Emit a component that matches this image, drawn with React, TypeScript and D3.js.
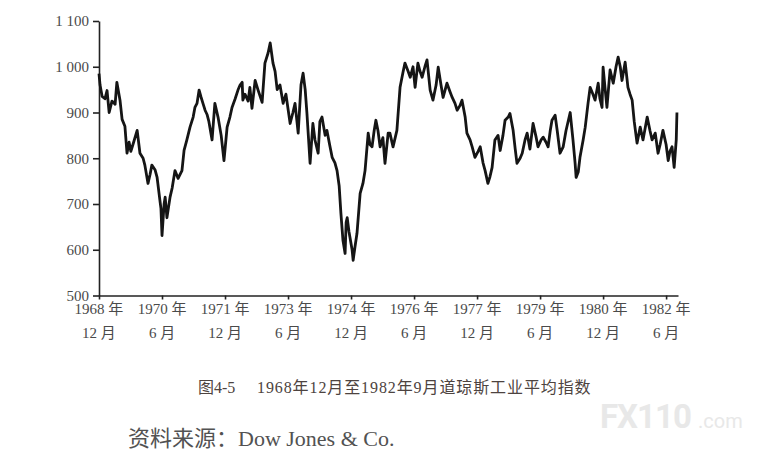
import { useEffect, useRef } from "react";
import * as d3 from "d3";

// months counted from December 1968
const monthsSinceDec1968 = [
  0, 0.3, 0.9, 1.7, 2.3, 2.9, 3.7, 4.6, 5.1, 6.0, 6.6, 7.4, 8.0, 8.6, 9.1, 9.7,
  10.9, 11.7, 12.6, 13.1, 14.0, 14.6, 15.1, 16.0, 16.6, 17.4, 17.7, 18.0, 18.6,
  18.9, 19.4, 20.3, 20.9, 21.7, 22.6, 23.7, 24.3, 25.1, 26.0, 26.9, 27.4, 28.0,
  28.6, 29.1, 29.7, 30.3, 30.9, 31.4, 32.3, 33.1, 34.0, 34.9, 35.7, 36.6, 37.4,
  38.0, 38.9, 39.7, 40.3, 40.9, 41.1, 41.7, 42.6, 43.1, 43.7, 44.6, 45.4, 46.6,
  47.4, 48.3, 48.9, 49.7, 50.3, 50.9, 51.7, 52.6, 53.4, 54.6, 55.4, 56.0, 56.9,
  57.7, 58.3, 58.9, 59.4, 60.3, 61.1, 61.7, 62.6, 63.1, 63.7, 64.6, 65.1, 66.0,
  66.6, 67.4, 68.0, 68.6, 69.1, 69.7, 70.3, 70.6, 70.9, 71.4, 71.7, 72.3, 72.6,
  73.1, 73.7, 74.6, 75.4, 76.0, 76.9, 77.4, 78.0, 78.6, 79.1, 79.7, 80.3, 81.1,
  81.7, 82.6, 83.1, 84.0, 85.1, 86.0, 86.9, 87.4, 88.3, 88.9, 89.7, 90.3, 91.1,
  91.7, 92.3, 93.1, 93.7, 94.6, 95.4, 96.3, 96.9, 97.7, 98.3, 98.9, 99.4, 100.3,
  100.9, 101.7, 102.3, 103.1, 103.7, 104.6, 105.1, 106.0, 106.6, 107.4, 108.3,
  108.9, 109.7, 110.3, 111.1, 111.7, 112.3, 113.1, 114.0, 114.6, 115.4, 116.0,
  116.9, 117.4, 118.3, 118.9, 119.4, 120.3, 120.9, 121.7, 122.3, 123.1, 124.0,
  124.9, 125.4, 126.3, 126.9, 127.7, 128.3, 128.9, 129.4, 130.3, 130.9, 131.7,
  132.6, 133.4, 134.6, 135.4, 136.0, 136.3, 136.9, 137.4, 138.3, 138.9, 139.7,
  140.3, 141.1, 141.7, 142.6, 143.1, 143.7, 144.0, 144.6, 145.1, 146.0, 146.9,
  147.7, 148.3, 148.9, 149.4, 150.3, 151.1, 151.7, 152.3, 152.9, 153.7, 154.6,
  155.4, 156.6, 157.4, 158.0, 158.9, 159.7, 160.3, 161.1, 162.0, 162.6, 163.1,
  163.7, 164.3, 164.9, 165.1,
];

const dowIndex = [
  985, 960, 935, 930, 948, 900, 925, 918, 966, 927, 885, 870, 811, 835, 815, 830,
  861, 811, 800, 785, 745, 765, 785, 775, 758, 708, 690, 631, 700, 715, 670, 715,
  735, 773, 756, 773, 817, 840, 868, 890, 911, 920, 949, 935, 920, 905, 895, 880,
  840, 920, 890, 850, 795, 868, 890, 911, 930, 949, 960, 966, 927, 940, 925, 955,
  909, 970, 950, 922, 1008, 1030, 1052, 1008, 990, 950, 960, 920, 940, 876, 900,
  920, 855, 960, 986, 950, 898, 789, 876, 840, 811, 880, 890, 850, 861, 825, 802,
  790, 773, 740, 680, 620, 592, 660, 670, 640, 627, 600, 577, 605, 636, 723, 745,
  773, 855, 830, 825, 860, 883, 860, 825, 845, 789, 855, 855, 825, 861, 955, 990,
  1008, 990, 977, 1000, 955, 1008, 990, 977, 1000, 1015, 949, 927, 960, 999, 960,
  933, 950, 964, 945, 933, 920, 905, 915, 927, 890, 855, 840, 825, 802, 815, 825,
  790, 773, 745, 760, 780, 840, 850, 817, 850, 883, 890, 898, 861, 820, 789, 800,
  811, 840, 855, 820, 876, 845, 825, 840, 846, 835, 825, 860, 883, 894, 860, 811,
  825, 860, 900, 840, 790, 758, 770, 802, 840, 868, 920, 955, 940, 927, 964, 930,
  911, 999, 950, 911, 993, 964, 1000, 1021, 1000, 970, 1010, 955, 940, 927, 880,
  833, 868, 840, 890, 860, 840, 855, 811, 830, 861, 830, 795, 815, 825, 780, 840,
  900,
];

const yTicks = [500, 600, 700, 800, 900, 1000, 1100];
const yTickLabels = ["500", "600", "700", "800", "900", "1 000", "1 100"];

const xTicks = [0, 18, 36, 54, 72, 90, 108, 126, 144, 162];
const xTickYears = [
  "1968 年", "1970 年", "1971 年", "1973 年", "1974 年",
  "1976 年", "1977 年", "1979 年", "1980 年", "1982 年",
];
const xTickMonths = [
  "12 月", "6 月", "12 月", "6 月", "12 月",
  "6 月", "12 月", "6 月", "12 月", "6 月",
];

const caption = "图4-5";
const captionTitle = "1968年12月至1982年9月道琼斯工业平均指数";
const source = "资料来源：Dow Jones & Co.";

const serif = "'Liberation Serif', 'Noto Sans CJK SC', serif";

const App = () => {
  const ref = useRef<SVGSVGElement | null>(null);

  useEffect(() => {
    if (!ref.current) return;
    document.body.style.margin = "0";

    const width = 784;
    const height = 472;

    const svg = d3.select(ref.current).attr("width", width).attr("height", height);
    svg.selectAll("*").remove();

    const x = d3.scaleLinear().domain([0, 165.4]).range([99, 678]);
    const y = d3.scaleLinear().domain([500, 1100]).range([295.5, 21]);

    const n = Math.min(monthsSinceDec1968.length, dowIndex.length);
    const data = d3.range(n).map((i) => ({ m: monthsSinceDec1968[i], v: dowIndex[i] }));

    // y axis
    const gy = svg
      .append("g")
      .attr("transform", `translate(${x(0)},0)`)
      .call(
        d3
          .axisLeft(y)
          .tickValues(yTicks)
          .tickFormat((_, i) => yTickLabels[i])
          .tickSize(6)
          .tickSizeOuter(0)
          .tickPadding(4)
      );
    gy.selectAll("path, line").attr("stroke", "#222").attr("stroke-width", 1.6);
    gy.selectAll("text")
      .attr("fill", "#4a4a4a")
      .attr("font-size", 15)
      .attr("font-family", serif);

    // x axis
    const gx = svg
      .append("g")
      .attr("transform", `translate(0,${y(500)})`)
      .call(
        d3
          .axisBottom(x)
          .tickValues(xTicks)
          .tickFormat(() => "")
          .tickSize(4)
          .tickSizeOuter(0)
      );
    gx.selectAll("path, line").attr("stroke", "#222").attr("stroke-width", 1.6);

    const xl = svg
      .append("g")
      .selectAll("text")
      .data(xTicks)
      .join("text")
      .attr("text-anchor", "middle")
      .attr("fill", "#4a4a4a")
      .attr("font-size", 15)
      .attr("font-family", serif);
    xl.append("tspan")
      .attr("x", (d) => x(d))
      .attr("y", 314)
      .text((_, i) => xTickYears[i]);
    xl.append("tspan")
      .attr("x", (d) => x(d))
      .attr("y", 338)
      .text((_, i) => xTickMonths[i]);

    // index line
    const line = d3
      .line<{ m: number; v: number }>()
      .x((d) => x(d.m))
      .y((d) => y(d.v));

    svg
      .append("path")
      .datum(data)
      .attr("d", line)
      .attr("fill", "none")
      .attr("stroke", "#151515")
      .attr("stroke-width", 2.8)
      .attr("stroke-linejoin", "round");

    // caption
    svg
      .append("text")
      .attr("x", 198)
      .attr("y", 393)
      .attr("fill", "#4d4340")
      .attr("font-size", 16)
      .attr("font-family", serif)
      .text(caption);
    svg
      .append("text")
      .attr("x", 257)
      .attr("y", 393)
      .attr("fill", "#4d4340")
      .attr("font-size", 16)
      .attr("letter-spacing", 0.9)
      .attr("font-family", serif)
      .text(captionTitle);

    svg
      .append("text")
      .attr("x", 128)
      .attr("y", 446)
      .attr("fill", "#525252")
      .attr("font-size", 22)
      .attr("font-family", serif)
      .text(source);

    // watermark
    svg
      .append("text")
      .attr("x", 600)
      .attr("y", 428)
      .attr("fill", "#e8e8e8")
      .attr("font-size", 33)
      .attr("font-weight", 700)
      .attr("letter-spacing", -1)
      .attr("font-family", "Roboto, sans-serif")
      .text("FX110");
    svg
      .append("text")
      .attr("x", 698)
      .attr("y", 428)
      .attr("fill", "#e8e8e8")
      .attr("font-size", 20)
      .attr("font-family", "Roboto, sans-serif")
      .text(".com");
  }, []);

  return <svg ref={ref} style={{ display: "block", background: "#fff" }}></svg>;
};

export default App;
